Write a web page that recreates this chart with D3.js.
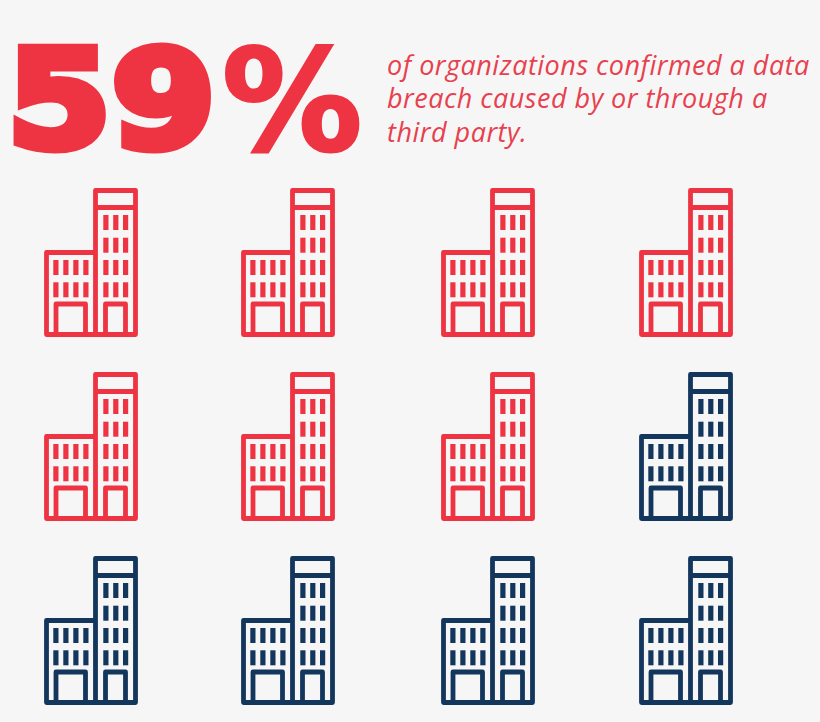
<!DOCTYPE html>
<html><head><meta charset="utf-8">
<script src="https://cdn.jsdelivr.net/npm/d3@7"></script>
<style>html,body{margin:0;padding:0;background:#f6f6f6}svg{display:block}</style>
</head><body><div id="c"></div>
<script>
const headline = "59";
const percentSign = "%";
const captionLines = ["of organizations confirmed a data","breach caused by or through a","third party."];
const totalBuildings = 12;
const highlighted = 7;
const columns = [0,1,2,3];
const rows = [0,1,2];
const RED="#ee3442", NAVY="#13365c", BG="#f6f6f6";

const svg=d3.select("#c").append("svg").attr("width",820).attr("height",722).style("background",BG);
const x=d3.scaleOrdinal().domain(columns).range([44,241,441,639]);
const y=d3.scaleOrdinal().domain(rows).range([188,372,556]);

// headline
svg.append("text").text(headline)
  .attr("transform","translate(7,147) scale(1.11,1)")
  .attr("font-family","'DejaVu Sans'").attr("font-weight",700).attr("font-size",135)
  .attr("fill",RED).attr("stroke",RED).attr("stroke-width",9).attr("stroke-linejoin","miter").attr("stroke-miterlimit",3);
svg.append("text").text(percentSign)
  .attr("transform","translate(222,149.5) scale(1,1)")
  .attr("font-family","'DejaVu Sans'").attr("font-weight",700).attr("font-size",140)
  .attr("fill",RED).attr("stroke",RED).attr("stroke-width",3);

// caption
svg.append("g").selectAll("text").data(captionLines).join("text")
  .attr("x",387).attr("y",(d,i)=>75+i*33.3).text(d=>d)
  .attr("font-family","'Open Sans'").attr("font-style","italic").attr("font-weight",400).attr("font-size",27)
  .attr("letter-spacing",0.5)
  .attr("fill","#e8404e");

// buildings
const cells=d3.range(totalBuildings).map(i=>({i,col:i%columns.length,row:Math.floor(i/columns.length)}));
const towerWin=d3.cross([59.3,69.2,79],[27,49.7,72,94.3]);
const lowWin=d3.cross([9.3,19.3,29.3,39.3],[72,94.3]);
svg.append("g").selectAll("g").data(cells).join("g")
  .attr("transform",d=>`translate(${x(d.col)},${y(d.row)})`)
  .each(function(d){
    const c=d.i<highlighted?RED:NAVY, s=d3.select(this);
    s.append("path")
      .attr("d","M2.5,146.5V64.5H51.5V2.5H91.5V146.5Z M51.5,64.5V146.5 M51.5,19.5H91.5 M12,146.5V116H41.5V146.5 M61.5,146.5V116H81.5V146.5")
      .attr("fill","none").attr("stroke",c).attr("stroke-width",4.8).attr("stroke-linejoin","round");
    s.selectAll("rect").data(towerWin.concat(lowWin)).join("rect")
      .attr("x",p=>p[0]).attr("y",p=>p[1]).attr("width",5.2).attr("height",15).attr("fill",c);
  });
</script></body></html>
